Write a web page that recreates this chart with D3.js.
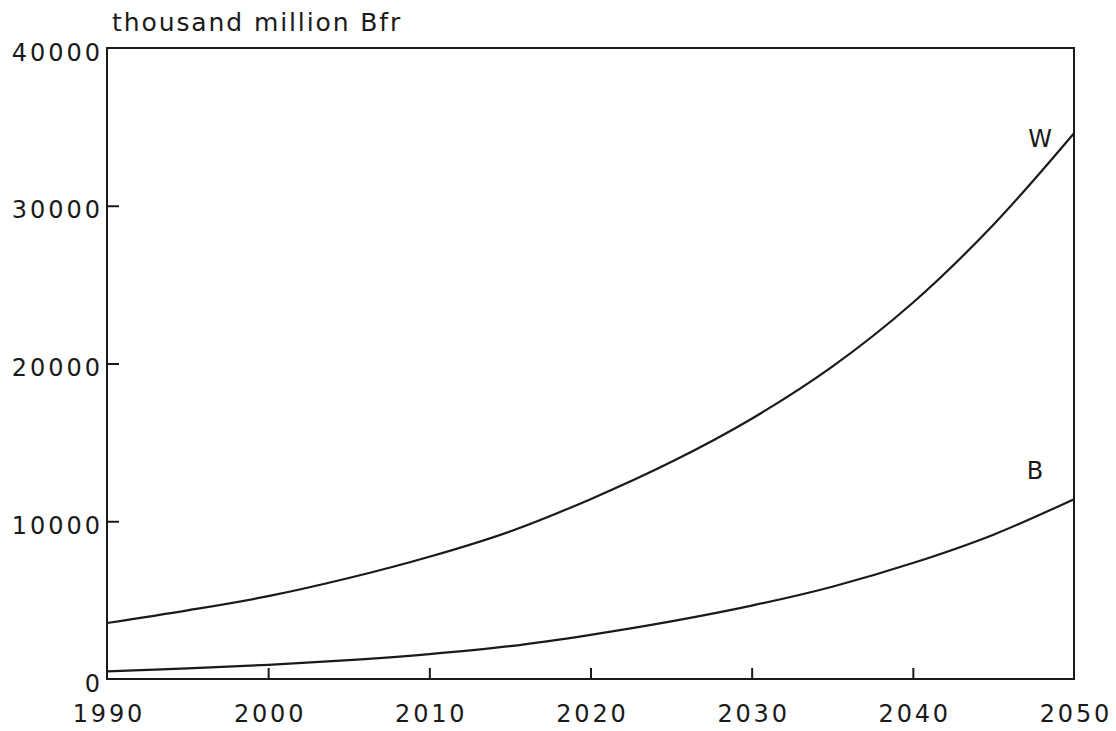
<!DOCTYPE html>
<html>
<head>
<meta charset="utf-8">
<script src="https://cdn.jsdelivr.net/npm/d3@7"></script>
<style>
  html, body { margin: 0; padding: 0; background: #fff; }
  svg text { font-family: "DejaVu Sans", "Liberation Sans", sans-serif; fill: #1a1a1a; }
</style>
</head>
<body>
<svg id="chart" width="1116" height="731"></svg>
<script>
const years = [1990, 1995, 2000, 2005, 2010, 2015, 2020, 2025, 2030, 2035, 2040, 2045, 2050];
const seriesW = [3550, 4350, 5250, 6400, 7750, 9350, 11400, 13750, 16500, 19800, 23850, 28800, 34600];
const seriesB = [480, 670, 900, 1200, 1580, 2080, 2800, 3650, 4650, 5850, 7350, 9150, 11400];
const xTicks = [1990, 2000, 2010, 2020, 2030, 2040, 2050];
const yTicks = [0, 10000, 20000, 30000, 40000];
const unitLabel = "thousand million Bfr";
const seriesNames = ["W", "B"];

const svg = d3.select("#chart");
const m = { left: 107, right: 1074, top: 48, bottom: 679 };
const ink = "#1a1a1a";

const x = d3.scaleLinear().domain([1990, 2050]).range([m.left, m.right]);
const y = d3.scaleLinear().domain([0, 40000]).range([m.bottom, m.top]);

// frame
svg.append("rect")
  .attr("x", m.left).attr("y", m.top)
  .attr("width", m.right - m.left).attr("height", m.bottom - m.top)
  .attr("fill", "none").attr("stroke", ink).attr("stroke-width", 2);

// x axis: inward ticks, labels below
const xAxis = svg.append("g").attr("transform", `translate(0,${m.bottom})`)
  .call(d3.axisBottom(x).tickValues(xTicks).tickFormat(d3.format("d")).tickSize(-11).tickPadding(34));
xAxis.select(".domain").remove();
xAxis.selectAll(".tick line").attr("stroke", ink).attr("stroke-width", 2)
  .filter(d => d === 1990 || d === 2050).remove();
xAxis.selectAll(".tick text").attr("font-size", 24).attr("letter-spacing", 2.8)
  .attr("fill", ink).attr("dy", "0.36em").attr("dx", 1.4);

// y axis: inward ticks, labels left
const yAxis = svg.append("g").attr("transform", `translate(${m.left},0)`)
  .call(d3.axisLeft(y).tickValues(yTicks).tickFormat(d3.format("d")).tickSize(-12).tickPadding(4));
yAxis.select(".domain").remove();
yAxis.selectAll(".tick line").attr("stroke", ink).attr("stroke-width", 2)
  .filter(d => d === 0 || d === 40000).remove();
yAxis.selectAll(".tick text").attr("font-size", 24).attr("letter-spacing", 3)
  .attr("fill", ink).attr("dy", "0.5em").attr("text-anchor", "end");

// unit label
svg.append("text").attr("x", m.left + 5).attr("y", 31)
  .attr("font-size", 25).attr("letter-spacing", 1.9).text(unitLabel);

// lines
const line = d3.line().x((d, i) => x(years[i])).y(d => y(d)).curve(d3.curveCatmullRom.alpha(0.5));
[seriesW, seriesB].forEach(s => {
  svg.append("path").datum(s).attr("d", line)
    .attr("fill", "none").attr("stroke", ink).attr("stroke-width", 2.2);
});

// series labels near the ends
const last = years.length - 1;
svg.append("text").attr("x", x(years[last]) - 34).attr("y", y(seriesW[last]) + 14)
  .attr("text-anchor", "middle").attr("font-size", 24).text(seriesNames[0]);
svg.append("text").attr("x", x(years[last]) - 39).attr("y", y(seriesB[last]) - 20)
  .attr("text-anchor", "middle").attr("font-size", 24).text(seriesNames[1]);
</script>
</body>
</html>
